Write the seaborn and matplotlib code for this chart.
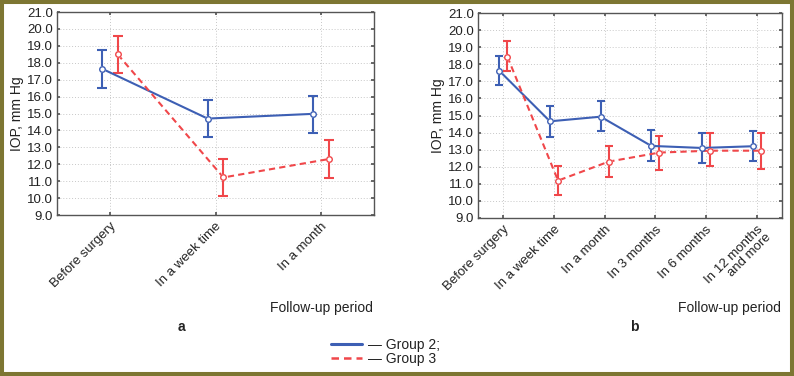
import numpy as np
import pandas as pd
import matplotlib
matplotlib.use("Agg")
import matplotlib.pyplot as plt
import seaborn as sns
from matplotlib.patches import Rectangle
from matplotlib.lines import Line2D

sns.set_theme(style="white")
plt.rcParams['font.family'] = ['Liberation Sans', 'DejaVu Sans']

# ---- data ----
cats_a = ["Before surgery", "In a week time", "In a month"]
g2_a = [17.65, 14.70, 14.98]
g2_a_lo = [16.53, 13.59, 13.86]
g2_a_hi = [18.76, 15.82, 16.06]
g3_a = [18.49, 11.22, 12.31]
g3_a_lo = [17.37, 10.14, 11.18]
g3_a_hi = [19.57, 12.31, 13.43]

cats_b = ["Before surgery", "In a week time", "In a month", "In 3 months",
          "In 6 months", "In 12 months\nand more"]
g2_b = [17.62, 14.66, 14.93, 13.22, 13.10, 13.20]
g2_b_lo = [16.76, 13.76, 14.07, 12.34, 12.20, 12.32]
g2_b_hi = [18.50, 15.53, 15.83, 14.15, 13.98, 14.12]
g3_b = [18.44, 11.19, 12.30, 12.83, 12.94, 12.94]
g3_b_lo = [17.58, 10.32, 11.38, 11.83, 12.03, 11.88]
g3_b_hi = [19.36, 12.07, 13.20, 13.80, 13.98, 13.98]

yticks = [9.0, 10.0, 11.0, 12.0, 13.0, 14.0, 15.0, 16.0, 17.0, 18.0, 19.0, 20.0, 21.0]

BLUE = "#3d5fb4"
RED = "#f0474a"
OLIVE = "#7d7632"

fig = plt.figure(figsize=(7.94, 3.76), dpi=100)
fig.patch.set_facecolor("white")

def panel(ax, cats, g2, g2lo, g2hi, g3, g3lo, g3hi, off, cap):
    n = len(cats)
    idx = np.arange(n)
    rows = []
    for i in range(n):
        rows.append(dict(x=idx[i] - off, y=g2[i], lo=g2lo[i], hi=g2hi[i], grp="Group 2"))
    for i in range(n):
        rows.append(dict(x=idx[i] + off, y=g3[i], lo=g3lo[i], hi=g3hi[i], grp="Group 3"))
    df = pd.DataFrame(rows)
    sns.lineplot(data=df, x="x", y="y", hue="grp", style="grp",
                 palette={"Group 2": BLUE, "Group 3": RED},
                 dashes={"Group 2": "", "Group 3": (3, 2)},
                 markers={"Group 2": "o", "Group 3": "o"},
                 markersize=4, markerfacecolor="white", markeredgewidth=1.0,
                 linewidth=1.5, ax=ax, legend=False, zorder=3)
    for grp, col in [("Group 2", BLUE), ("Group 3", RED)]:
        d = df[df.grp == grp]
        ax.errorbar(d.x, d.y, yerr=[d.y - d.lo, d.hi - d.y], fmt="none",
                    ecolor=col, elinewidth=1.5, capsize=cap, capthick=1.5, zorder=2)
    for grp, col in [("Group 2", BLUE), ("Group 3", RED)]:
        d = df[df.grp == grp]
        ax.plot(d.x, d.y, "o", ms=4, mfc="white", mec=col, mew=1.0, zorder=4)
    ax.set_xlim(-0.5, n - 0.5)
    ax.set_ylim(9, 21)
    ax.set_yticks(yticks)
    ax.set_yticklabels([f"{v:.1f}" for v in yticks], fontsize=9.5, color="#222222")
    ax.set_xticks(idx)
    ax.set_xticklabels(cats, rotation=45, ha="right", rotation_mode="anchor",
                       fontsize=9.5, color="#222222", linespacing=0.95)
    ax.set_xlabel("")
    ax.set_ylabel("IOP, mm Hg", fontsize=10, color="#222222", labelpad=2)
    ax.grid(True, color="#c8c8c8", linestyle=(0, (1, 2)), linewidth=0.7)
    for s in ax.spines.values():
        s.set_color("#555555")
        s.set_linewidth(1.0)
    ax.tick_params(axis="y", direction="in", length=2, pad=3, right=True, left=True,
                   color="#555555")
    ax.tick_params(axis="x", direction="in", length=2, pad=4, top=True, bottom=True,
                   color="#555555")

axa = fig.add_axes([57/794, 1 - 215/376, (374 - 57)/794, (215 - 12)/376])
axb = fig.add_axes([478/794, 1 - 218/376, (782 - 478)/794, (218 - 13)/376])
panel(axa, cats_a, g2_a, g2_a_lo, g2_a_hi, g3_a, g3_a_lo, g3_a_hi, 0.075, 3.8)
panel(axb, cats_b, g2_b, g2_b_lo, g2_b_hi, g3_b, g3_b_lo, g3_b_hi, 0.08, 3.0)

fig.text(321/794, 1 - 308/376, "Follow-up period", ha="center", va="center",
         fontsize=10, color="#222222")
fig.text(729/794, 1 - 308/376, "Follow-up period", ha="center", va="center",
         fontsize=10, color="#222222")
fig.text(181/794, 1 - 327/376, "a", ha="center", va="center", fontsize=10,
         fontweight="bold", color="#222222")
fig.text(634/794, 1 - 327/376, "b", ha="center", va="center", fontsize=10,
         fontweight="bold", color="#222222")

# legend
handles = [Line2D([0], [0], color=BLUE, lw=2.2),
           Line2D([0], [0], color=RED, lw=1.8, dashes=(3, 2))]
leg = fig.legend(handles, ["— Group 2;", "— Group 3"], loc="center left",
                 bbox_to_anchor=(331/794, 1 - 352/376), frameon=False,
                 fontsize=10, handlelength=2.2, handletextpad=0.5,
                 labelspacing=0.05, borderpad=0, borderaxespad=0)
for t in leg.get_texts():
    t.set_color("#222222")

# olive frame
fig.patches.append(Rectangle((0, 0), 1, 1, transform=fig.transFigure, fill=False,
                             edgecolor=OLIVE, linewidth=5.8, zorder=10))

fig.savefig("out.png", dpi=100, facecolor="white")
